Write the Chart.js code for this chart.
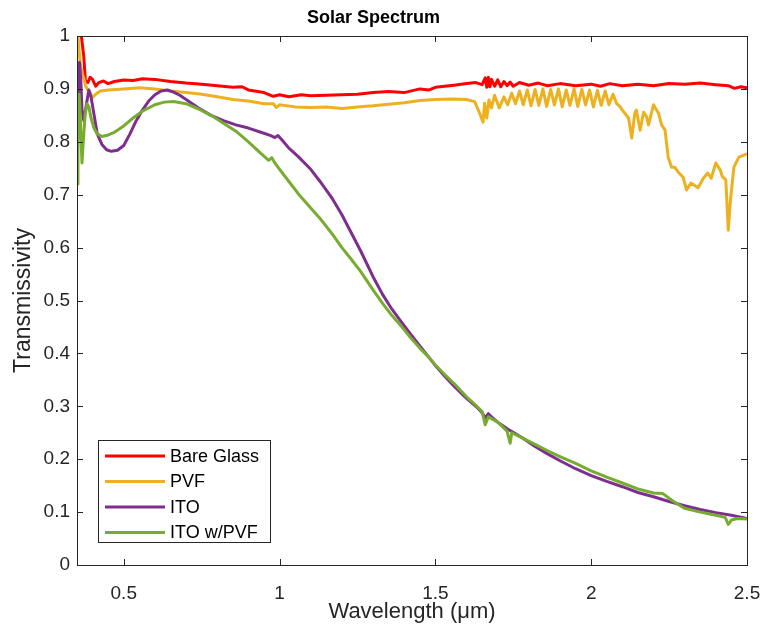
<!DOCTYPE html>
<html>
<head>
<meta charset="utf-8">
<title>Solar Spectrum</title>
<script src="https://cdn.jsdelivr.net/npm/chart.js@4.4.1/dist/chart.umd.min.js"></script>
<style>
    body { margin: 0; background: #fff; }
    #wrap { width: 763px; height: 633px; }
</style>
</head>
<body>
<div id="wrap"><canvas id="spectrum" width="763" height="633"></canvas></div>
<script>
// tick positions
const xTicks = [0.5, 1, 1.5, 2, 2.5];
const yTicks = [0, 0.1, 0.2, 0.3, 0.4, 0.5, 0.6, 0.7, 0.8, 0.9, 1];

// Bare Glass
const glassWl = [0.350, 0.362, 0.372, 0.377, 0.385, 0.392, 0.400, 0.410, 0.420, 0.435, 0.450, 0.470, 0.500, 0.530, 0.560, 0.600, 0.650, 0.700, 0.750, 0.800, 0.850, 0.880, 0.900, 0.950, 0.980, 1.000, 1.030, 1.070, 1.100, 1.150, 1.200, 1.250, 1.300, 1.350, 1.400, 1.450, 1.480, 1.500, 1.530, 1.560, 1.600, 1.630, 1.650, 1.660, 1.665, 1.670, 1.675, 1.680, 1.690, 1.700, 1.710, 1.720, 1.730, 1.740, 1.750, 1.770, 1.800, 1.830, 1.860, 1.900, 1.950, 2.000, 2.030, 2.060, 2.100, 2.150, 2.200, 2.250, 2.300, 2.350, 2.400, 2.440, 2.460, 2.480, 2.500];
const glassT = [1.02, 1.01, 0.96, 0.915, 0.912, 0.922, 0.918, 0.905, 0.912, 0.915, 0.910, 0.914, 0.917, 0.916, 0.919, 0.918, 0.914, 0.911, 0.909, 0.906, 0.903, 0.904, 0.898, 0.893, 0.886, 0.889, 0.885, 0.889, 0.887, 0.888, 0.889, 0.890, 0.893, 0.895, 0.893, 0.900, 0.898, 0.903, 0.905, 0.907, 0.910, 0.912, 0.908, 0.921, 0.903, 0.922, 0.904, 0.918, 0.905, 0.917, 0.904, 0.914, 0.906, 0.913, 0.905, 0.912, 0.907, 0.911, 0.906, 0.910, 0.906, 0.909, 0.905, 0.910, 0.906, 0.909, 0.906, 0.910, 0.909, 0.911, 0.908, 0.906, 0.901, 0.904, 0.902];

// PVF
const pvfWl = [0.350, 0.356, 0.360, 0.366, 0.372, 0.378, 0.385, 0.392, 0.400, 0.410, 0.425, 0.450, 0.500, 0.550, 0.600, 0.650, 0.700, 0.750, 0.800, 0.850, 0.900, 0.950, 0.980, 0.990, 1.000, 1.050, 1.100, 1.150, 1.200, 1.250, 1.300, 1.350, 1.400, 1.450, 1.500, 1.550, 1.600, 1.626, 1.642, 1.653, 1.658, 1.665, 1.672, 1.680, 1.690, 1.705, 1.720, 1.732, 1.745, 1.757, 1.770, 1.782, 1.795, 1.807, 1.820, 1.832, 1.845, 1.857, 1.870, 1.882, 1.895, 1.907, 1.920, 1.932, 1.945, 1.957, 1.970, 1.982, 1.995, 2.007, 2.020, 2.032, 2.045, 2.057, 2.070, 2.082, 2.093, 2.100, 2.120, 2.130, 2.140, 2.145, 2.157, 2.168, 2.178, 2.184, 2.200, 2.216, 2.226, 2.237, 2.247, 2.258, 2.268, 2.279, 2.295, 2.306, 2.320, 2.343, 2.360, 2.374, 2.385, 2.400, 2.414, 2.421, 2.432, 2.440, 2.447, 2.458, 2.474, 2.490, 2.500];
const pvfT = [1.02, 0.98, 0.95, 0.93, 0.92, 0.905, 0.898, 0.893, 0.884, 0.890, 0.896, 0.898, 0.900, 0.902, 0.900, 0.896, 0.893, 0.890, 0.885, 0.880, 0.877, 0.872, 0.872, 0.865, 0.870, 0.866, 0.865, 0.866, 0.863, 0.866, 0.868, 0.871, 0.874, 0.878, 0.880, 0.881, 0.880, 0.876, 0.854, 0.837, 0.873, 0.845, 0.879, 0.864, 0.888, 0.864, 0.885, 0.870, 0.892, 0.872, 0.896, 0.870, 0.898, 0.868, 0.899, 0.869, 0.900, 0.867, 0.899, 0.870, 0.900, 0.866, 0.898, 0.869, 0.900, 0.867, 0.899, 0.870, 0.898, 0.866, 0.897, 0.869, 0.896, 0.870, 0.890, 0.872, 0.866, 0.860, 0.845, 0.807, 0.854, 0.860, 0.822, 0.856, 0.847, 0.832, 0.870, 0.854, 0.832, 0.822, 0.771, 0.752, 0.752, 0.743, 0.733, 0.709, 0.722, 0.713, 0.731, 0.741, 0.731, 0.760, 0.747, 0.734, 0.728, 0.633, 0.690, 0.752, 0.771, 0.775, 0.777];

// ITO
const itoWl = [0.350, 0.354, 0.358, 0.362, 0.366, 0.372, 0.380, 0.388, 0.395, 0.405, 0.415, 0.430, 0.445, 0.460, 0.480, 0.500, 0.520, 0.540, 0.560, 0.580, 0.600, 0.620, 0.640, 0.660, 0.680, 0.700, 0.740, 0.780, 0.820, 0.860, 0.900, 0.940, 0.970, 0.985, 0.995, 1.010, 1.030, 1.060, 1.100, 1.130, 1.170, 1.200, 1.230, 1.260, 1.300, 1.330, 1.360, 1.390, 1.420, 1.450, 1.480, 1.500, 1.530, 1.560, 1.600, 1.630, 1.650, 1.660, 1.670, 1.680, 1.700, 1.740, 1.780, 1.820, 1.860, 1.900, 1.950, 2.000, 2.050, 2.100, 2.150, 2.200, 2.250, 2.300, 2.350, 2.400, 2.450, 2.500];
const itoT = [0.86, 0.88, 0.95, 0.92, 0.86, 0.84, 0.87, 0.898, 0.885, 0.850, 0.815, 0.795, 0.785, 0.782, 0.784, 0.793, 0.815, 0.840, 0.860, 0.877, 0.889, 0.896, 0.898, 0.894, 0.888, 0.880, 0.864, 0.850, 0.840, 0.832, 0.826, 0.818, 0.812, 0.808, 0.812, 0.802, 0.788, 0.772, 0.748, 0.725, 0.692, 0.662, 0.628, 0.594, 0.545, 0.512, 0.484, 0.460, 0.437, 0.414, 0.392, 0.377, 0.357, 0.338, 0.315, 0.300, 0.288, 0.278, 0.286, 0.280, 0.270, 0.254, 0.240, 0.224, 0.210, 0.197, 0.182, 0.169, 0.158, 0.148, 0.137, 0.129, 0.120, 0.112, 0.105, 0.099, 0.094, 0.088];

// ITO w/PVF
const itoPvfWl = [0.350, 0.353, 0.357, 0.361, 0.366, 0.370, 0.376, 0.382, 0.388, 0.395, 0.405, 0.415, 0.430, 0.450, 0.470, 0.500, 0.530, 0.560, 0.600, 0.630, 0.660, 0.700, 0.740, 0.780, 0.820, 0.860, 0.900, 0.940, 0.965, 0.975, 0.985, 1.000, 1.030, 1.060, 1.100, 1.130, 1.170, 1.200, 1.230, 1.260, 1.300, 1.330, 1.360, 1.390, 1.420, 1.450, 1.480, 1.500, 1.530, 1.560, 1.600, 1.630, 1.650, 1.660, 1.670, 1.700, 1.730, 1.740, 1.745, 1.780, 1.820, 1.860, 1.900, 1.950, 2.000, 2.050, 2.100, 2.150, 2.200, 2.230, 2.260, 2.300, 2.350, 2.400, 2.430, 2.440, 2.450, 2.470, 2.500];
const itoPvfT = [0.72, 0.80, 0.89, 0.84, 0.76, 0.80, 0.85, 0.872, 0.866, 0.845, 0.825, 0.815, 0.810, 0.813, 0.818, 0.830, 0.845, 0.858, 0.870, 0.875, 0.876, 0.872, 0.862, 0.850, 0.835, 0.820, 0.800, 0.778, 0.765, 0.770, 0.760, 0.748, 0.725, 0.702, 0.675, 0.655, 0.625, 0.600, 0.578, 0.555, 0.520, 0.495, 0.472, 0.452, 0.430, 0.410, 0.392, 0.378, 0.360, 0.343, 0.318, 0.302, 0.290, 0.265, 0.280, 0.270, 0.253, 0.230, 0.250, 0.240, 0.228, 0.216, 0.205, 0.192, 0.178, 0.166, 0.155, 0.144, 0.136, 0.135, 0.122, 0.107, 0.100, 0.094, 0.090, 0.077, 0.085, 0.088, 0.087];

const axisColor = '#262626';
const fontFamily = '"Liberation Sans", Arial, Helvetica, sans-serif';

function pairs(xs, ys) {
    return xs.map((x, i) => ({ x: x, y: ys[i] }));
}

// box around the axes with inward ticks on all four sides, like matlab
const axesBox = {
    id: 'axesBox',
    afterDraw(chart) {
        const ctx = chart.ctx;
        const a = chart.chartArea;
        const xs = chart.scales.x;
        const ys = chart.scales.y;
        const len = 6;
        ctx.save();
        ctx.strokeStyle = axisColor;
        ctx.lineWidth = 1;
        ctx.strokeRect(a.left + 0.5, a.top + 0.5, a.right - a.left, a.bottom - a.top);
        ctx.beginPath();
        xTicks.forEach(v => {
            const px = Math.round(xs.getPixelForValue(v)) + 0.5;
            ctx.moveTo(px, a.bottom);
            ctx.lineTo(px, a.bottom - len);
            ctx.moveTo(px, a.top);
            ctx.lineTo(px, a.top + len);
        });
        yTicks.forEach(v => {
            const py = Math.round(ys.getPixelForValue(v)) + 0.5;
            ctx.moveTo(a.left, py);
            ctx.lineTo(a.left + len, py);
            ctx.moveTo(a.right, py);
            ctx.lineTo(a.right - len, py);
        });
        ctx.stroke();
        ctx.restore();
    }
};

// legend drawn inside the axes, lower left
const boxLegend = {
    id: 'boxLegend',
    afterDraw(chart) {
        const ctx = chart.ctx;
        const left = 98, top = 440, width = 172, height = 102;
        const rowH = 25.5;
        ctx.save();
        ctx.fillStyle = '#fff';
        ctx.fillRect(left, top, width, height);
        ctx.strokeStyle = axisColor;
        ctx.lineWidth = 1;
        ctx.strokeRect(left + 0.5, top + 0.5, width, height);
        ctx.font = '18px ' + fontFamily;
        ctx.textBaseline = 'middle';
        ctx.textAlign = 'left';
        chart.data.datasets.forEach((ds, i) => {
            const y = top + 16 + i * rowH;
            ctx.strokeStyle = ds.borderColor;
            ctx.lineWidth = 3;
            ctx.beginPath();
            ctx.moveTo(left + 7, y);
            ctx.lineTo(left + 67, y);
            ctx.stroke();
            ctx.fillStyle = '#000';
            ctx.fillText(ds.label, left + 72, y + 1);
        });
        ctx.restore();
    }
};

const ctx = document.getElementById('spectrum');

let spectrum = new Chart(ctx, {
    type: 'line',
    data: {
        datasets: [{
            label: 'Bare Glass',
            data: pairs(glassWl, glassT),
            borderColor: '#FF0000',
            order: 4,
        },
        {
            label: 'PVF',
            data: pairs(pvfWl, pvfT),
            borderColor: '#EDB120',
            order: 3,
        },
        {
            label: 'ITO',
            data: pairs(itoWl, itoT),
            borderColor: '#7E2F8E',
            order: 2,
        },
        {
            label: 'ITO w/PVF',
            data: pairs(itoPvfWl, itoPvfT),
            borderColor: '#77AC30',
            order: 1,
        }]
    },
    options: {
        responsive: false,
        animation: false,
        devicePixelRatio: 1,
        layout: {
            padding: { left: 0, right: 16, top: 0, bottom: 0 }
        },
        elements: {
            point: { radius: 0 },
            line: { borderWidth: 3, tension: 0, borderJoinStyle: 'round', fill: false }
        },
        plugins: {
            legend: { display: false },
            tooltip: { enabled: false },
            title: {
                display: true,
                text: 'Solar Spectrum',
                color: '#000',
                font: { family: fontFamily, size: 18, weight: 'bold' },
                padding: { top: 7, bottom: 7.4 }
            }
        },
        scales: {
            x: {
                type: 'linear',
                min: 0.35,
                max: 2.5,
                afterBuildTicks: (scale) => { scale.ticks = xTicks.map(v => ({ value: v })); },
                afterFit: (scale) => {
                    scale.height = 68;
                    scale.paddingLeft = 0;
                    scale.paddingRight = 0;
                },
                grid: { display: false, drawTicks: false },
                border: { display: false },
                ticks: {
                    color: axisColor,
                    padding: 17,
                    maxRotation: 0,
                    autoSkip: false,
                    font: { family: fontFamily, size: 19 },
                    callback: (v) => String(v)
                },
                title: {
                    display: true,
                    text: 'Wavelength (μm)',
                    color: axisColor,
                    font: { family: fontFamily, size: 22 },
                    padding: { top: 0, bottom: 8 }
                }
            },
            y: {
                min: 0,
                max: 1,
                afterBuildTicks: (scale) => { scale.ticks = yTicks.map(v => ({ value: v })); },
                afterFit: (scale) => {
                    scale.width = 77;
                    scale.paddingTop = 0;
                    scale.paddingBottom = 0;
                },
                grid: { display: false, drawTicks: false },
                border: { display: false },
                ticks: {
                    color: axisColor,
                    padding: 7,
                    autoSkip: false,
                    font: { family: fontFamily, size: 19 },
                    callback: (v) => String(v)
                },
                title: {
                    display: true,
                    text: 'Transmissivity',
                    color: axisColor,
                    font: { family: fontFamily, size: 23 },
                    padding: { top: 10, bottom: 0 }
                }
            }
        }
    },
    plugins: [axesBox, boxLegend]
});
</script>
</body>
</html>
